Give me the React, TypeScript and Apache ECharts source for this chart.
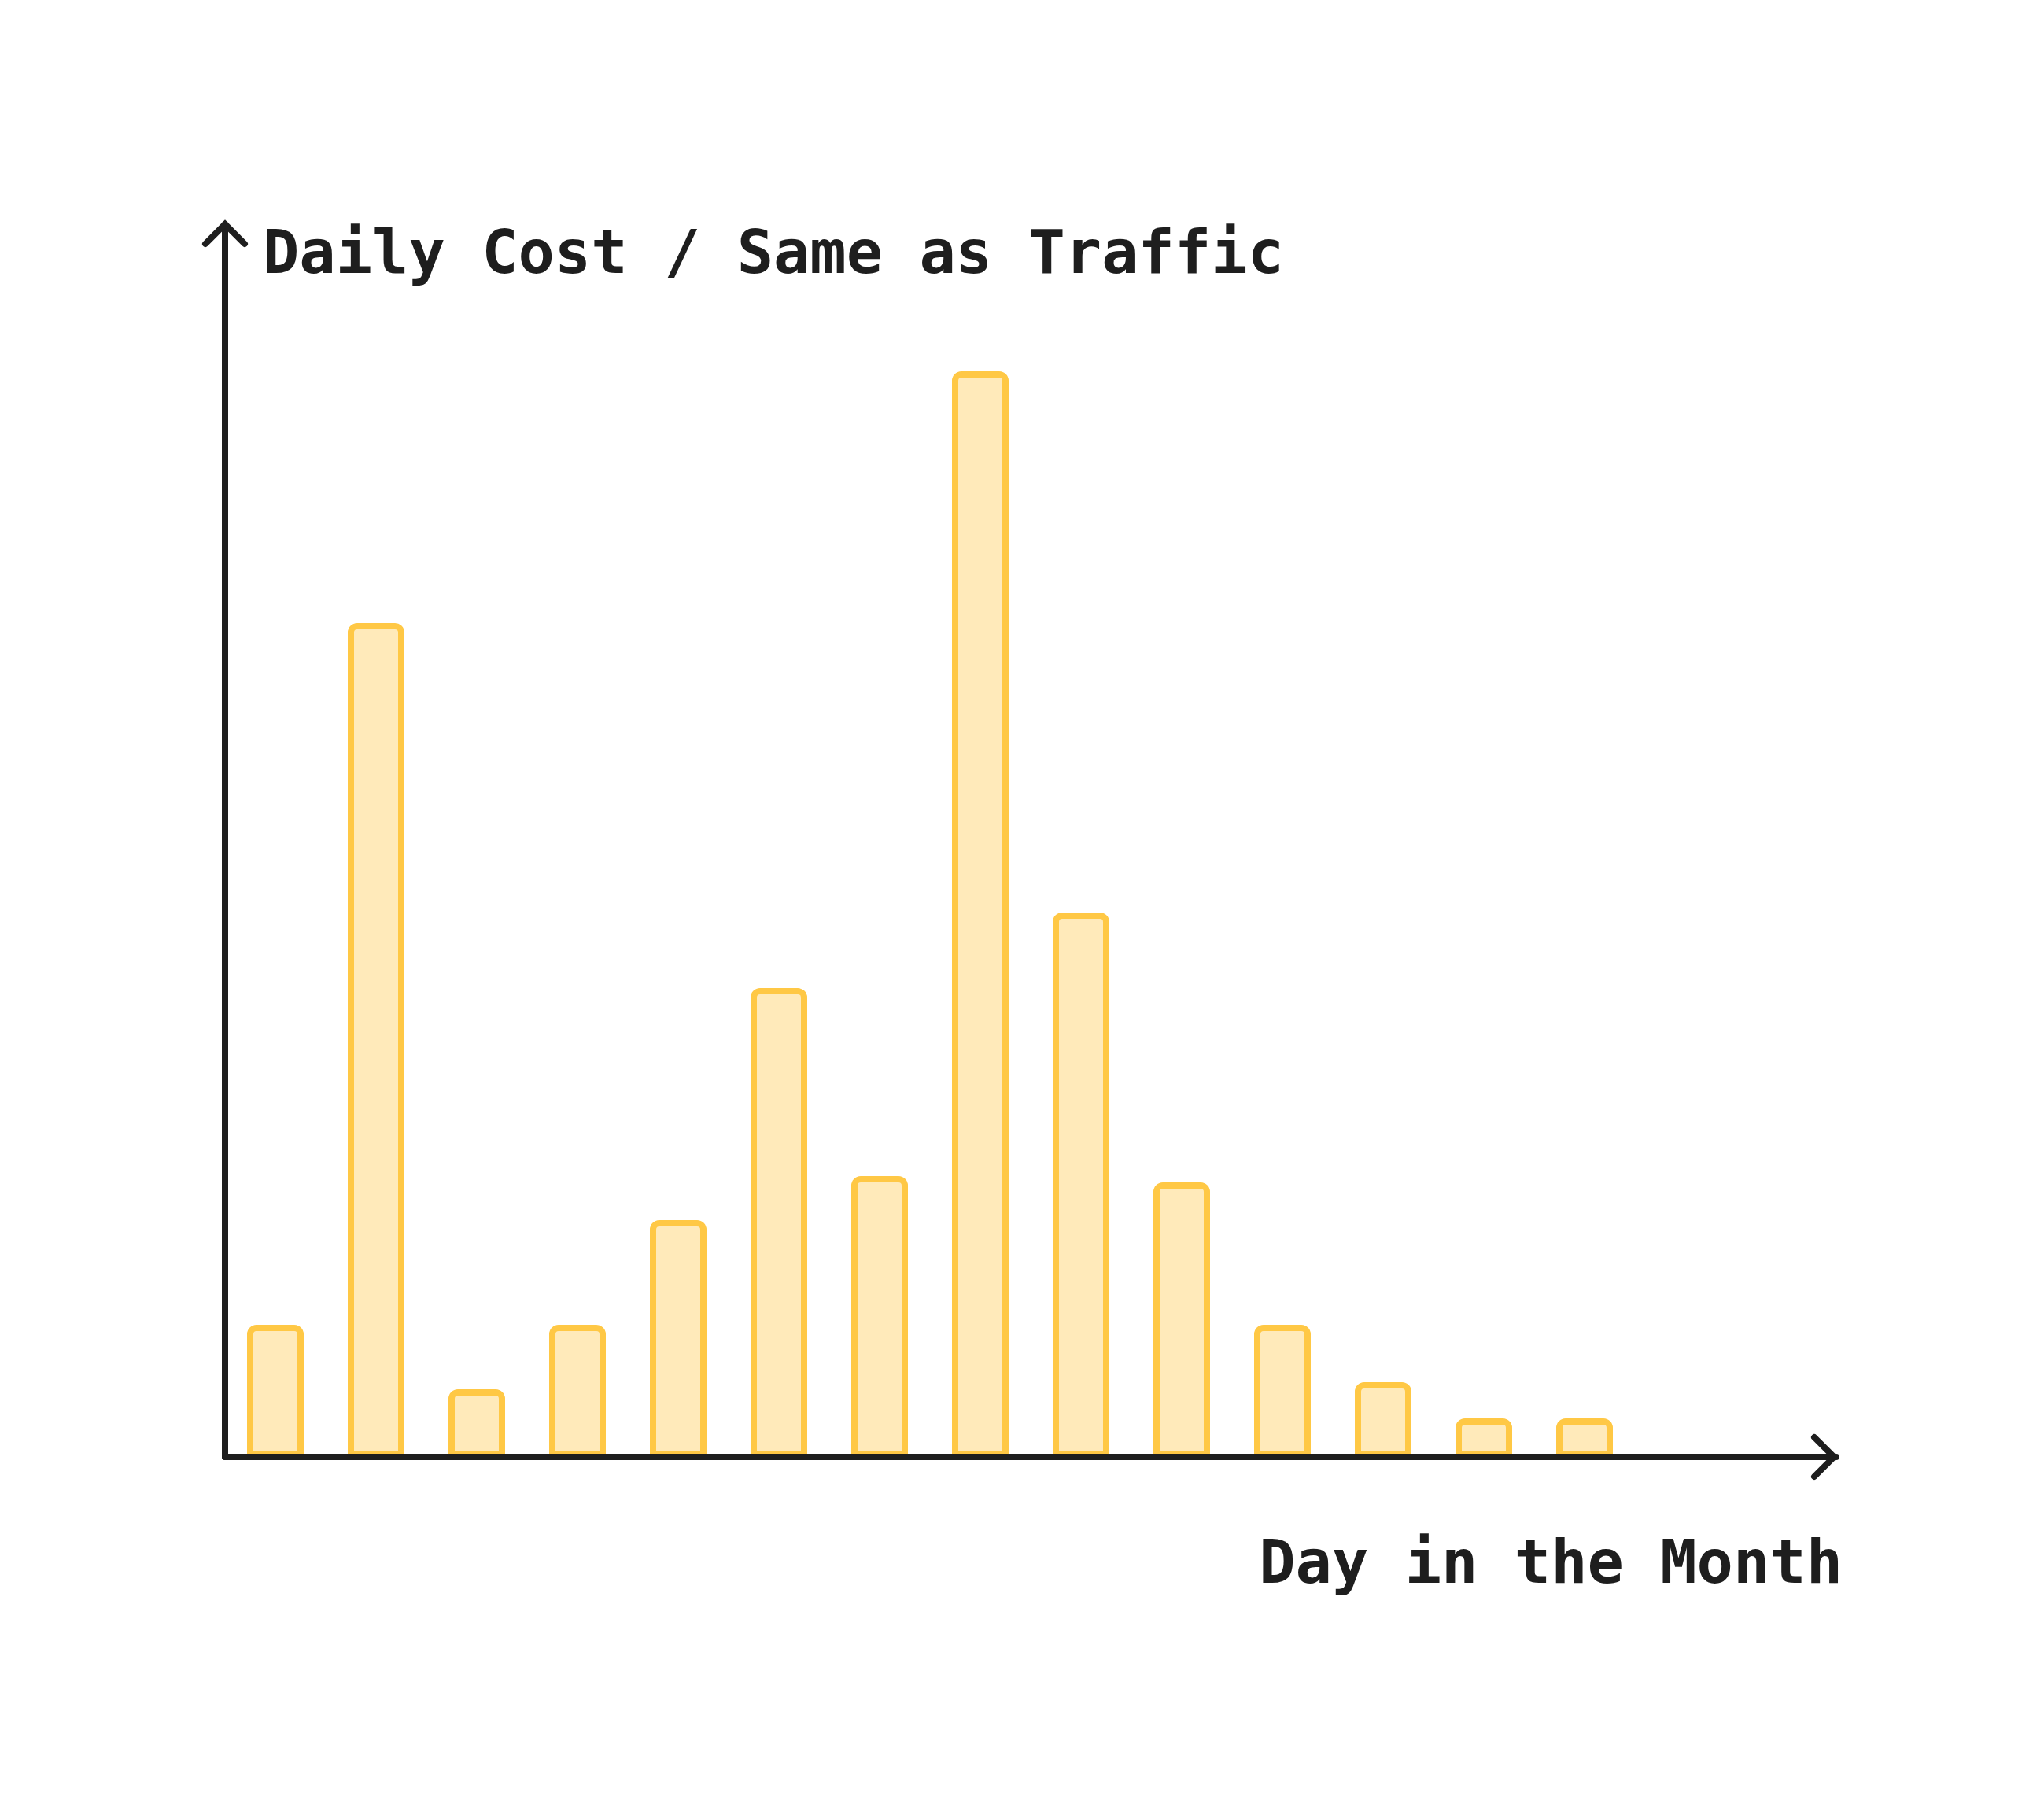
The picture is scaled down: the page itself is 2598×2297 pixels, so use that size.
import React, { useEffect, useRef } from "react";
import * as echarts from "echarts";

const days = ["1", "2", "3", "4", "5", "6", "7", "8", "9", "10", "11", "12", "13", "14", "15", "16"];
const dailyCost = [16.8, 106, 8.6, 16.8, 30.1, 59.6, 35.7, 138, 69.2, 34.9, 16.8, 9.5, 4.9, 4.9, null, null];
const yTitle = "Daily Cost / Same as Traffic";
const xTitle = "Day in the Month";

const INK = "#1e1e1e";
const FONT = '"DejaVu Sans Mono", "Liberation Mono", monospace';

export default function App() {
  const ref = useRef<HTMLDivElement>(null);
  useEffect(() => {
    document.body.style.margin = "0";
    const chart = echarts.init(ref.current!, null, { renderer: "svg" });
    chart.setOption({
      animation: false,
      backgroundColor: "#ffffff",
      grid: { left: 286, right: 264, top: 285, bottom: 445, outerBoundsMode: "none" },
      xAxis: {
        type: "category",
        data: days,
        boundaryGap: true,
        z: 5,
        axisLine: { show: true, lineStyle: { color: INK, width: 8, cap: "round" } },
        axisTick: { show: false },
        axisLabel: { show: false },
        splitLine: { show: false },
      },
      yAxis: {
        type: "value",
        min: 0,
        max: 156.7,
        z: 5,
        axisLine: { show: true, lineStyle: { color: INK, width: 8, cap: "round" } },
        axisTick: { show: false },
        axisLabel: { show: false },
        splitLine: { show: false },
      },
      series: [
        {
          type: "bar",
          data: dailyCost,
          barWidth: 72,
          itemStyle: {
            color: "#FFEABA",
            borderColor: "#FFC845",
            borderWidth: 8,
            borderRadius: [8, 8, 0, 0],
          },
        },
      ],
      graphic: [
        {
          type: "polyline",
          shape: { points: [[2306, 1827], [2331, 1852], [2306, 1877]] },
          style: { stroke: INK, lineWidth: 8, fill: null, lineCap: "round", lineJoin: "miter" },
          z: 10,
        },
        {
          type: "polyline",
          shape: { points: [[261, 310], [286, 285], [311, 310]] },
          style: { stroke: INK, lineWidth: 8, fill: null, lineCap: "round", lineJoin: "miter" },
          z: 10,
        },
        {
          type: "text",
          x: 334,
          y: 320,
          style: {
            text: yTitle,
            fill: INK,
            fontFamily: FONT,
            fontSize: 77,
            fontWeight: "bold",
            align: "left",
            verticalAlign: "middle",
          },
          z: 10,
        },
        {
          type: "text",
          x: 2342,
          y: 1985,
          style: {
            text: xTitle,
            fill: INK,
            fontFamily: FONT,
            fontSize: 77,
            fontWeight: "bold",
            align: "right",
            verticalAlign: "middle",
          },
          z: 10,
        },
      ],
    });
    return () => chart.dispose();
  }, []);
  return <div ref={ref} style={{ width: 2598, height: 2297, background: "#ffffff" }} />;
}
